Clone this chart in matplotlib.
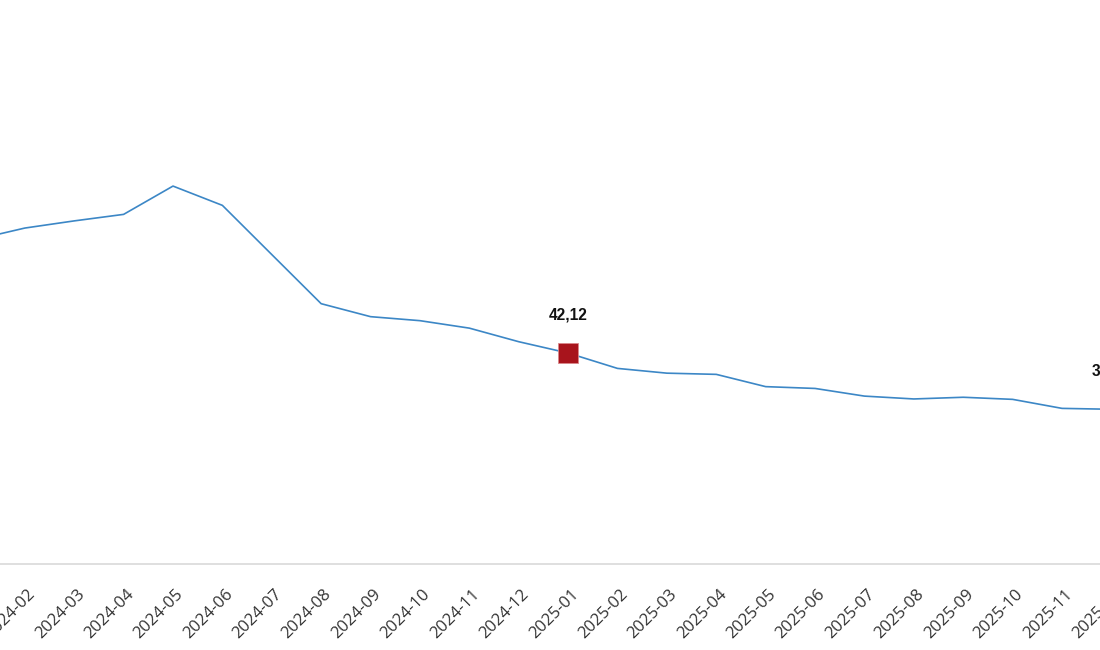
import matplotlib.pyplot as plt
from matplotlib.transforms import ScaledTranslation

# Monthly values (annual rate, %)
months = ["2024-01", "2024-02", "2024-03", "2024-04", "2024-05", "2024-06",
          "2024-07", "2024-08", "2024-09", "2024-10", "2024-11", "2024-12",
          "2025-01", "2025-02", "2025-03", "2025-04", "2025-05", "2025-06",
          "2025-07", "2025-08", "2025-09", "2025-10", "2025-11", "2025-12"]
values = [64.77, 67.07, 68.50, 69.80, 75.45, 71.60,
          61.78, 51.97, 49.38, 48.58, 47.09, 44.38,
          42.12, 39.05, 38.10, 37.86, 35.41, 35.05,
          33.52, 32.95, 33.29, 32.87, 31.07, 30.89]

# Highlighted months
highlight = ["2025-01", "2025-12"]

line_color = "#3c87c6"
mark_color = "#a8141c"

fig = plt.figure(figsize=(11, 6.5), dpi=100)
# the plot area runs past both edges of the picture (cropped view)
ax = fig.add_axes([-0.05, 0.1323, 1.15, 0.8677])

x = list(range(len(months)))
ax.plot(x, values, color=line_color, lw=1.2, zorder=2)

for m in highlight:
    i = months.index(m)
    ax.plot(i, values[i], marker="s", ms=14.4, color=mark_color,
            markeredgecolor="#d9878a", markeredgewidth=0.6, zorder=3)
    ax.annotate(f"{values[i]:.2f}".replace(".", ","), (i, values[i]),
                xytext=(0, 27.4), textcoords="offset points",
                ha="center", va="center", fontsize=11.2, fontweight="bold",
                family="Liberation Sans", color="#111111",
                annotation_clip=False)

ax.set_xticks(x)
ax.set_xticklabels(months, rotation=45, ha="right", va="center",
                   rotation_mode="anchor", fontsize=12, family="Open Sans",
                   color="#333333")
ax.tick_params(axis="x", length=0, pad=10)
shift = ScaledTranslation(0.08, -0.14, fig.dpi_scale_trans)
for lab in ax.get_xticklabels():
    lab.set_transform(lab.get_transform() + shift)
ax.set_yticks([])

ax.set_xlim(-0.616, 24.996)
ax.set_ylim(0, 112.6)

for s in ["top", "left", "right"]:
    ax.spines[s].set_visible(False)
ax.spines["bottom"].set_color("#d9d9d9")
ax.spines["bottom"].set_linewidth(1.2)

fig.savefig("out.png", dpi=100)
